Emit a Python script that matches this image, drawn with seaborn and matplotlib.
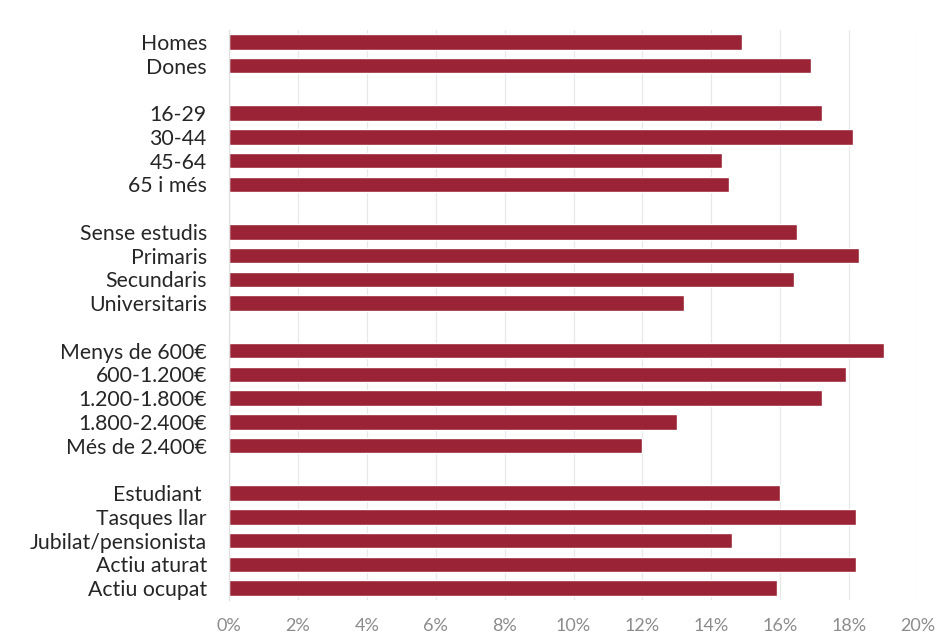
import matplotlib
matplotlib.use("Agg")
import matplotlib.pyplot as plt
import seaborn as sns
import pandas as pd
from matplotlib.ticker import FuncFormatter

sexe = ["Homes", "Dones"]
sexe_vals = [14.9, 16.9]
edat = ["16-29", "30-44", "45-64", "65 i més"]
edat_vals = [17.2, 18.1, 14.3, 14.5]
estudis = ["Sense estudis", "Primaris", "Secundaris", "Universitaris"]
estudis_vals = [16.5, 18.3, 16.4, 13.2]
ingressos = ["Menys de 600€", "600-1.200€", "1.200-1.800€", "1.800-2.400€", "Més de 2.400€"]
ingressos_vals = [19.0, 17.9, 17.2, 13.0, 12.0]
activitat = ["Estudiant ", "Tasques llar", "Jubilat/pensionista", "Actiu aturat", "Actiu ocupat"]
activitat_vals = [16.0, 18.2, 14.6, 18.2, 15.9]
x_ticks = [0, 2, 4, 6, 8, 10, 12, 14, 16, 18, 20]

groups = [(sexe, sexe_vals), (edat, edat_vals), (estudis, estudis_vals),
          (ingressos, ingressos_vals), (activitat, activitat_vals)]

cats, vals, order = [], [], []
for gi, (c, v) in enumerate(groups):
    if gi > 0:
        order.append(" " * gi)
    order.extend(c)
    cats.extend(c)
    vals.extend(v)
df = pd.DataFrame({"cat": cats, "val": vals})

sns.set_theme(style="white")
plt.rcParams["font.family"] = ["Lato", "DejaVu Sans"]

fig = plt.figure(figsize=(9.5, 6.36), dpi=100)
ax = fig.add_axes([229 / 950, 1 - 600 / 636, (918 - 229) / 950, (600 - 30) / 636])
sns.barplot(data=df, x="val", y="cat", order=order, color="#9a2436",
            saturation=1, width=0.66, ax=ax, orient="h")

ax.set_xlim(0, 20)
ax.set_ylim(len(order) - 0.5, -0.5)
ax.set_xticks(x_ticks)
ax.xaxis.set_major_formatter(FuncFormatter(lambda x, p: f"{x:.0f}%"))
ax.grid(axis="x", color="#e8e8e8", linewidth=0.9)
ax.set_axisbelow(True)
for s in ["top", "right", "bottom"]:
    ax.spines[s].set_visible(False)
ax.spines["left"].set_color("#e0e0e0")
ax.spines["left"].set_linewidth(0.9)
ax.tick_params(axis="x", length=0, pad=13, labelsize=13, labelcolor="#8c8c8c")
ax.tick_params(axis="y", length=0, pad=16, labelsize=15.3, labelcolor="#262626")
ax.set_xlabel("")
ax.set_ylabel("")

fig.savefig("out.png", dpi=100)
